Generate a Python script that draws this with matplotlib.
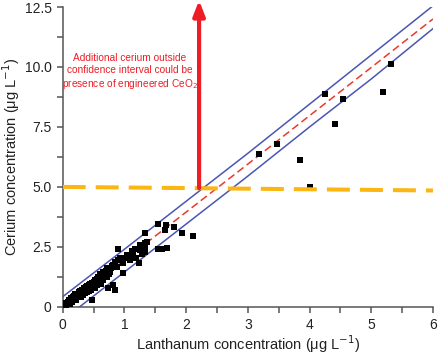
import matplotlib
matplotlib.use('Agg')
import matplotlib.pyplot as plt

plt.rcParams['font.family'] = ['Liberation Sans', 'DejaVu Sans']

# measured samples (La, Ce) in ug/L
la = [0.02, 0.04, 0.05, 0.06, 0.08, 0.08, 0.10, 0.10, 0.12, 0.12, 0.14, 0.15,
      0.16, 0.18, 0.18, 0.20, 0.20, 0.22, 0.22, 0.24, 0.25, 0.26, 0.28, 0.28,
      0.30, 0.30, 0.31, 0.32, 0.33, 0.34, 0.35, 0.36, 0.37, 0.38, 0.39, 0.40,
      0.40, 0.42, 0.42, 0.44, 0.45, 0.46, 0.47, 0.48, 0.48, 0.50, 0.50, 0.52,
      0.52, 0.54, 0.55, 0.56, 0.58, 0.58, 0.60, 0.60, 0.62, 0.63, 0.65, 0.66,
      0.68, 0.69, 0.70, 0.71, 0.72, 0.74, 0.74, 0.75, 0.77, 0.79, 0.80, 0.82,
      0.82, 0.84, 0.85, 0.88, 0.90, 0.90, 0.93, 0.97, 0.98, 1.00, 1.04, 1.09,
      1.12, 1.14, 1.17, 1.19, 1.24, 1.25, 1.25, 1.29, 1.33, 1.33, 1.33, 1.36,
      1.33, 1.55, 1.55, 1.61, 1.66, 1.67, 1.69, 1.81, 1.94, 2.11,
      3.18, 3.48, 3.85, 4.00, 4.25, 4.42, 4.55, 5.19, 5.32]
ce = [0.05, 0.10, 0.02, 0.14, 0.10, 0.22, 0.18, 0.30, 0.12, 0.26, 0.35, 0.22,
      0.40, 0.30, 0.45, 0.38, 0.52, 0.30, 0.45, 0.55, 0.40, 0.62, 0.50, 0.66,
      0.42, 0.58, 0.72, 0.62, 0.50, 0.78, 0.66, 0.58, 0.82, 0.70, 0.60, 0.86,
      0.75, 0.68, 0.92, 0.80, 0.95, 0.72, 0.28, 1.00, 0.85, 0.90, 1.05, 0.78,
      1.10, 0.98, 1.18, 0.90, 1.05, 1.25, 1.15, 1.38, 0.95, 1.28, 1.45, 1.11,
      1.30, 1.39, 1.50, 1.25, 1.60, 1.53, 0.77, 1.35, 1.45, 1.60, 1.72, 1.74,
      0.90, 0.70, 1.88, 1.67, 2.43, 1.95, 2.02, 1.39, 1.81, 2.05, 2.18, 1.95,
      2.32, 2.22, 2.43, 2.02, 1.81, 2.57, 2.36, 2.22, 2.64, 2.29, 3.06, 2.71,
      2.43, 3.47, 2.43, 2.39, 3.22, 3.40, 2.46, 3.32, 3.07, 2.95,
      6.38, 6.79, 6.11, 5.00, 8.89, 7.61, 8.65, 8.96, 10.14]

# regression line and confidence band
fit_x = [0, 1, 2, 3, 4, 5, 6]
fit_y = [0.0, 1.95, 3.95, 5.95, 7.97, 9.98, 12.0]
upper_y = [0.42, 2.40, 4.40, 6.40, 8.45, 10.50, 12.55]
lower_y = [-0.55, 1.45, 3.45, 5.45, 7.50, 9.50, 11.60]

# threshold line
thr_x = [0, 6]
thr_y = [5.0, 4.85]

arrow_x = 2.21
arrow_y = (4.95, 12.78)

fig = plt.figure(figsize=(4.39, 3.54), dpi=100)
ax = fig.add_axes([0.1428, 0.1333, 0.8435, 0.8469])

ax.plot(fit_x, upper_y, color='#4b56b2', lw=1.1, zorder=2)
ax.plot(fit_x, lower_y, color='#4b56b2', lw=1.1, zorder=2)
ax.plot(fit_x, fit_y, color='#ea3a2c', lw=1.1, dashes=(5, 2.6), zorder=2)
ax.scatter(la, ce, marker='s', s=17, color='black', linewidths=0, zorder=3)
ax.plot(thr_x, thr_y, color='#fbb614', lw=2.9, dashes=(5.7, 2.5), zorder=4)

ax.annotate('', xy=(arrow_x, arrow_y[1]), xytext=(arrow_x, arrow_y[0]),
            annotation_clip=False,
            arrowprops=dict(arrowstyle='-|>,head_length=0.9,head_width=0.35',
                            color='#ee1c25', lw=3, shrinkA=0, shrinkB=0),
            zorder=5)
ax.text(1.09, 9.8, 'Additional cerium outside\nconfidence interval could be\n'
        'presence of engineered CeO$_2$', color='#ee1c25', fontsize=7.3,
        ha='center', va='center', linespacing=1.2)

ax.set_xlim(0, 6)
ax.set_ylim(0, 12.5)
ax.set_xticks(range(7))
ax.set_xticks([0.5, 1.5, 2.5, 3.5, 4.5, 5.5], minor=True)
ax.set_yticks([0, 2.5, 5.0, 7.5, 10.0, 12.5])
ax.set_yticklabels(['0', '2.5', '5.0', '7.5', '10.0', '12.5'])
ax.set_yticks([1.25, 3.75, 6.25, 8.75, 11.25], minor=True)

for side in ['top', 'right']:
    ax.spines[side].set_visible(False)
for side in ['left', 'bottom']:
    ax.spines[side].set_color('#555555')
    ax.spines[side].set_linewidth(1.1)
ax.tick_params(which='both', direction='out', color='#555555', width=1.1,
               labelsize=10, labelcolor='#222222')
ax.tick_params(which='major', length=4.5)
ax.tick_params(which='minor', length=4)

ax.set_xlabel('Lanthanum concentration (\u03bcg L$^{-1}$)', fontsize=10.5,
              color='#222222')
ax.set_ylabel('Cerium concentration (\u03bcg L$^{-1}$)', fontsize=10.5,
              color='#222222')
ax.xaxis.set_label_coords(0.5, -0.123)
ax.yaxis.set_label_coords(-0.14, 0.5)
ax.xaxis.label.set_va('center')
ax.yaxis.label.set_va('center')

fig.savefig('out.png', dpi=100)
